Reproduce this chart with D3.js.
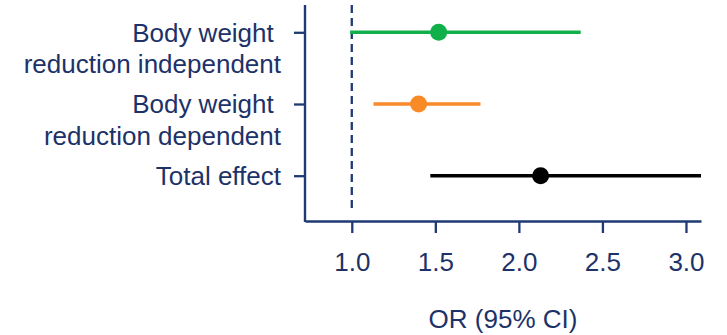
<!DOCTYPE html>
<html>
<head>
<meta charset="utf-8">
<script src="https://cdn.jsdelivr.net/npm/d3@7"></script>
<style>
  html, body { margin: 0; padding: 0; background: #ffffff; }
  svg { display: block; }
  text { font-family: "Liberation Sans", Arial, Helvetica, sans-serif; }
</style>
</head>
<body>
<svg id="chart" width="727" height="335"></svg>
<script>
// Odds ratios with 95% confidence intervals
const labels = [
  ["Body weight ", "reduction independent"],
  ["Body weight ", "reduction dependent"],
  ["Total effect"]
];
const estimates = [1.52, 1.40, 2.13];
const lower = [0.99, 1.13, 1.47];
const upper = [2.37, 1.77, 3.09];
const colors = ["#12b04a", "#f98a28", "#000000"];
const xTicks = [1.0, 1.5, 2.0, 2.5, 3.0];
const xTitle = "OR (95% CI)";
const refValue = 1.0;

const navy = "#1f3a73";
const textColor = "#1d3268";
const fontSize = 26;

const svg = d3.select("#chart");

const axisTop = 5, axisBottom = 221, axisLeft = 305, axisRight = 701;

const x = d3.scaleLinear().domain([0.72, 3.09]).range([axisLeft, axisRight]);
const y = d3.scalePoint().domain(d3.range(labels.length)).range([32.3, 175.7]);

// reference line at OR = 1
svg.append("line")
  .attr("x1", x(refValue)).attr("x2", x(refValue))
  .attr("y1", axisTop).attr("y2", 213)
  .attr("stroke", navy).attr("stroke-width", 2.3)
  .attr("stroke-dasharray", "8,5");

// x axis
const gx = svg.append("g")
  .attr("transform", `translate(0,${axisBottom})`)
  .call(d3.axisBottom(x).tickValues(xTicks).tickFormat(d3.format(".1f"))
    .tickSize(12).tickSizeOuter(0).tickPadding(20));
gx.select(".domain").attr("stroke", navy).attr("stroke-width", 2.4);
gx.selectAll(".tick line").attr("stroke", navy).attr("stroke-width", 2.3);
gx.selectAll(".tick text")
  .attr("fill", textColor).attr("font-size", fontSize)
  .style("font-family", '"Liberation Sans", Arial, sans-serif');

// y axis line
svg.append("line")
  .attr("x1", axisLeft).attr("x2", axisLeft)
  .attr("y1", axisTop).attr("y2", axisBottom + 1)
  .attr("stroke", navy).attr("stroke-width", 2.4);

// y axis ticks and labels
const gy = svg.append("g")
  .attr("transform", `translate(${axisLeft},0)`)
  .call(d3.axisLeft(y).tickSize(11).tickSizeOuter(0).tickFormat(""));
gy.select(".domain").remove();
gy.selectAll(".tick line").attr("stroke", navy).attr("stroke-width", 2.3);

const rowLabels = svg.append("g")
  .selectAll("text")
  .data(labels)
  .join("text")
  .attr("text-anchor", "end")
  .attr("font-size", fontSize)
  .attr("fill", textColor)
  .attr("y", (d, i) => y(i));
rowLabels.selectAll("tspan")
  .data(d => d)
  .join("tspan")
  .attr("x", 281)
  .attr("dy", (d, j) => j === 0 ? "0.36em" : "31.7")
  .style("white-space", "pre")
  .text(d => d);

// confidence intervals
svg.append("g")
  .selectAll("line")
  .data(estimates)
  .join("line")
  .attr("x1", (d, i) => x(lower[i]))
  .attr("x2", (d, i) => x(upper[i]))
  .attr("y1", (d, i) => y(i))
  .attr("y2", (d, i) => y(i))
  .attr("stroke", (d, i) => colors[i])
  .attr("stroke-width", 3.6);

// point estimates
svg.append("g")
  .selectAll("circle")
  .data(estimates)
  .join("circle")
  .attr("cx", d => x(d))
  .attr("cy", (d, i) => y(i))
  .attr("r", 8.5)
  .attr("fill", (d, i) => colors[i]);

// x axis title
svg.append("text")
  .attr("x", 503)
  .attr("y", 328)
  .attr("text-anchor", "middle")
  .attr("font-size", fontSize)
  .attr("fill", textColor)
  .text(xTitle);
</script>
</body>
</html>
